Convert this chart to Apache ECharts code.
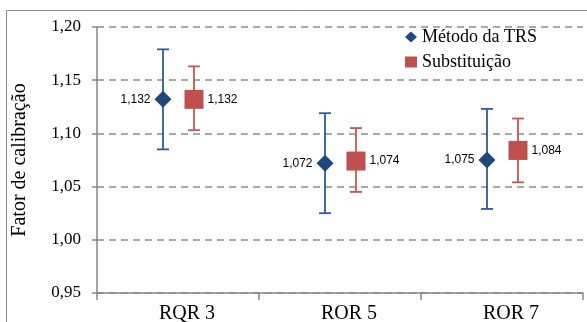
<!DOCTYPE html>
<html>
<head>
<meta charset="utf-8">
<script src="https://cdn.jsdelivr.net/npm/echarts@6/dist/echarts.min.js"></script>
<style>
  html, body { margin: 0; padding: 0; background: #fff; }
  #chart { width: 587px; height: 322px; }
</style>
</head>
<body>
<div id="chart"></div>
<script>
// categorias e valores
const categories = ["RQR 3", "ROR 5", "ROR 7"];
const trsValues = [1.132, 1.072, 1.075];
const trsLow = [1.085, 1.025, 1.029];
const trsHigh = [1.179, 1.119, 1.123];
const subValues = [1.132, 1.074, 1.084];
const subLow = [1.103, 1.045, 1.054];
const subHigh = [1.163, 1.105, 1.114];

const serif = "'Liberation Serif', 'Times New Roman', serif";
const sans = "'Liberation Sans', Arial, sans-serif";
const blue = "#1F497D";
const blueBar = "#2E5B99";
const red = "#C0504D";
const redBar = "#CC5552";

const fmt = (v, d) => v.toFixed(d).replace(".", ",");

function errorBar(offset, color) {
  return function (params, api) {
    const top = api.coord([api.value(0), api.value(2)]);
    const bottom = api.coord([api.value(0), api.value(1)]);
    const x = top[0] + offset;
    const cap = 6;
    const style = { stroke: color, lineWidth: 1.8 };
    return {
      type: "group",
      children: [
        { type: "line", shape: { x1: x, y1: top[1], x2: x, y2: bottom[1] }, style: style },
        { type: "line", shape: { x1: x - cap, y1: top[1], x2: x + cap, y2: top[1] }, style: style },
        { type: "line", shape: { x1: x - cap, y1: bottom[1], x2: x + cap, y2: bottom[1] }, style: style },
      ],
    };
  };
}

const chart = echarts.init(document.getElementById("chart"));
chart.setOption({
  animation: false,
  backgroundColor: "#fff",
  graphic: [
    {
      type: "rect",
      shape: { x: 6.5, y: 10.5, width: 620, height: 400 },
      style: { fill: "none", stroke: "#898989", lineWidth: 1 },
      silent: true,
      z: -1,
    },
  ],
  grid: { left: 97, right: 4, top: 27, bottom: 29, outerBoundsMode: "none", containLabel: false },
  legend: {
    orient: "vertical",
    left: 400,
    top: 23,
    itemWidth: 12,
    itemHeight: 11,
    itemGap: 7,
    textStyle: { fontFamily: serif, fontSize: 18, color: "#000" },
    data: [
      { name: "Método da TRS", icon: "diamond" },
      { name: "Substituição", icon: "rect" },
    ],
  },
  xAxis: {
    type: "category",
    data: categories,
    boundaryGap: true,
    axisLine: { lineStyle: { color: "#868686", width: 1.5 } },
    axisTick: { show: true, length: 7, lineStyle: { color: "#868686", width: 1.5 } },
    axisLabel: {
      fontFamily: serif,
      fontSize: 20,
      color: "#000",
      margin: 11,
      padding: [0, 0, 0, 18],
    },
  },
  yAxis: {
    type: "value",
    min: 0.95,
    max: 1.2,
    interval: 0.05,
    name: "Fator de calibração",
    nameLocation: "middle",
    nameRotate: 90,
    nameGap: 67,
    nameTextStyle: { fontFamily: serif, fontSize: 20, color: "#000" },
    axisLine: { show: true, lineStyle: { color: "#868686", width: 1.5 } },
    axisTick: { show: true, length: 5, lineStyle: { color: "#868686", width: 1.5 } },
    axisLabel: {
      fontFamily: serif,
      fontSize: 17,
      color: "#000",
      margin: 16,
      formatter: (v) => fmt(v, 2),
    },
    splitLine: {
      show: true,
      lineStyle: { color: "#8C8C8C", width: 1.5, type: [7, 5] },
    },
  },
  series: [
    {
      type: "custom",
      renderItem: errorBar(-15, blueBar),
      data: categories.map((c, i) => [i, trsLow[i], trsHigh[i]]),
      z: 1,
      silent: true,
    },
    {
      type: "custom",
      renderItem: errorBar(16, redBar),
      data: categories.map((c, i) => [i, subLow[i], subHigh[i]]),
      z: 1,
      silent: true,
    },
    {
      name: "Método da TRS",
      type: "scatter",
      symbol: "diamond",
      symbolSize: 17,
      symbolOffset: [-15, 0],
      itemStyle: { color: blue, opacity: 1 },
      data: trsValues,
      z: 3,
      label: {
        show: true,
        position: "left",
        distance: 4,
        fontFamily: sans,
        fontSize: 12,
        color: "#000",
        formatter: (p) => fmt(p.value, 3),
      },
    },
    {
      name: "Substituição",
      type: "scatter",
      symbol: "rect",
      symbolSize: 19,
      symbolOffset: [16, 0],
      itemStyle: { color: red, opacity: 1 },
      data: subValues,
      z: 3,
      label: {
        show: true,
        position: "right",
        distance: 4,
        fontFamily: sans,
        fontSize: 12,
        color: "#000",
        formatter: (p) => fmt(p.value, 3),
      },
    },
  ],
});
</script>
</body>
</html>
